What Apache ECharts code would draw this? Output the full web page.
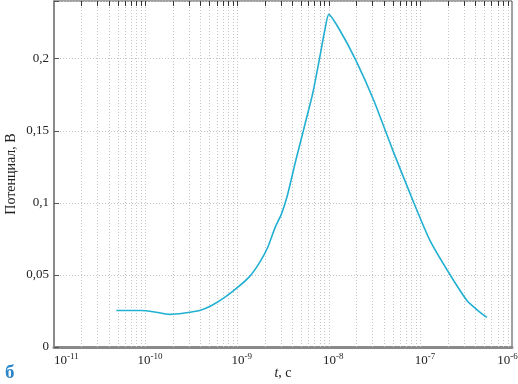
<!DOCTYPE html>
<html><head><meta charset="utf-8">
<script src="https://cdn.jsdelivr.net/npm/echarts@6/dist/echarts.min.js"></script>
<style>html,body{margin:0;padding:0;background:#fff}#c{width:518px;height:384px}</style>
</head><body><div id="c"></div>
<script>
// time, s
var timeValues = [4.8e-11, 9.0e-11, 1.25e-10, 1.83e-10, 2.67e-10, 3.89e-10, 5.26e-10, 7.3e-10, 1.01e-9, 1.37e-9, 1.76e-9, 2.15e-9, 2.57e-9, 3.06e-9, 3.56e-9, 4.36e-9, 5.47e-9, 6.68e-9, 7.97e-9, 9.04e-9, 1.0e-8, 1.32e-8, 1.97e-8, 3.1e-8, 5.0e-8, 8.27e-8, 1.27e-7, 2.1e-7, 3.22e-7, 4.25e-7, 5.33e-7];
// potential, V
var potentialValues = [0.0253, 0.0253, 0.0243, 0.0226, 0.0236, 0.0253, 0.0288, 0.0344, 0.0413, 0.049, 0.0587, 0.069, 0.0823, 0.0927, 0.106, 0.1294, 0.154, 0.176, 0.201, 0.2197, 0.2307, 0.2197, 0.199, 0.171, 0.1364, 0.1017, 0.074, 0.0503, 0.0323, 0.0253, 0.0205];
var xMin = 1e-11, xMax = 1e-6;
var yMin = 0, yMax = 0.24, yStep = 0.05;
var decadeExponents = [-11, -10, -9, -8, -7, -6];
var minorMultipliers = [2, 3, 4, 5, 6, 7, 8, 9];
var yAxisName = 'Потенциал, В';
var panelLetter = 'б';

var gridPositions = [];
decadeExponents.forEach(function (e, i) {
  if (i > 0 && i < decadeExponents.length - 1) gridPositions.push(Math.pow(10, e));
  if (i < decadeExponents.length - 1) minorMultipliers.forEach(function (m) { gridPositions.push(m * Math.pow(10, e)); });
});
var gridStyle = { color: '#c4c4c4', type: [1, 2], width: 1 };
var tickStyle = { color: '#333', type: 'solid', width: 1 };
var vLines = gridPositions.map(function (v) { return [{ coord: [v, yMin], lineStyle: gridStyle }, { coord: [v, yMax] }]; });
var topTicks = gridPositions.map(function (v) { return [{ coord: [v, yMax], lineStyle: tickStyle }, { coord: [v, yMax - 0.0035] }]; });

var data = timeValues.map(function (t, i) { return [t, potentialValues[i]]; });
var serif = 'Liberation Serif';
var chart = echarts.init(document.getElementById('c'), null, { renderer: 'canvas' });
chart.setOption({
  animation: false,
  backgroundColor: '#fff',
  grid: { left: 54, right: 6, top: 1, bottom: 37, containLabel: false, outerBoundsMode: 'none',
    show: true, borderColor: '#444', borderWidth: 1, backgroundColor: 'transparent' },
  xAxis: {
    type: 'log', logBase: 10, min: xMin, max: xMax,
    name: '{i|t}{n|, c}', nameLocation: 'middle', nameGap: 19, nameMoveOverlap: false,
    nameTextStyle: { rich: {
      i: { fontFamily: serif, fontSize: 14, fontStyle: 'italic', color: '#222' },
      n: { fontFamily: serif, fontSize: 14, color: '#222' } } },
    axisLine: { show: true, lineStyle: { color: '#8a8a8a', width: 3 } },
    axisTick: { show: false },
    splitLine: { show: false },
    axisLabel: {
      margin: 5,
      alignMinLabel: 'left',
      formatter: function (v) {
        var e = Math.round(Math.log(v) / Math.LN10);
        if (e === -11) return '{b|10}{s|' + e + '}';
        if (e === -6) return '{b|10}{s|' + e + '}{p|}';
        return '{p|}{b|10}{s|' + e + '}';
      },
      rich: {
        b: { fontFamily: serif, fontSize: 13, color: '#222', verticalAlign: 'bottom' },
        s: { fontFamily: serif, fontSize: 9, color: '#222', verticalAlign: 'bottom', padding: [0, 0, 6, 0] },
        p: { width: 9 }
      }
    }
  },
  yAxis: {
    type: 'value', min: yMin, max: yMax, interval: yStep,
    name: yAxisName, nameLocation: 'middle', nameGap: 36, nameMoveOverlap: false,
    nameTextStyle: { fontFamily: serif, fontSize: 14, color: '#222' },
    axisLine: { show: true, lineStyle: { color: '#8a8a8a', width: 2 } },
    axisTick: { show: true, inside: true, length: 5, lineStyle: { color: '#555' } },
    splitLine: { show: true, lineStyle: gridStyle },
    axisLabel: {
      fontFamily: serif, fontSize: 13, color: '#222', margin: 5,
      formatter: function (v) {
        var k = v / yStep;
        if (Math.abs(k - Math.round(k)) > 1e-6) return '';
        return String(+v.toFixed(2)).replace('.', ',');
      }
    }
  },
  graphic: [
    { type: 'text', left: 5, top: 364, style: { text: panelLetter, fontFamily: serif, fontSize: 19, fontWeight: 'bold', fill: '#2a86c8' } }
  ],
  series: [
    {
      type: 'line', data: data, smooth: 0.2, showSymbol: false,
      lineStyle: { color: '#22b0d2', width: 1.6 },
      itemStyle: { color: '#22b0d2' },
      z: 5,
      markLine: {
        silent: true, symbol: 'none', animation: false, label: { show: false },
        lineStyle: gridStyle,
        emphasis: { disabled: true },
        data: vLines.concat(topTicks)
      }
    }
  ]
});
</script></body></html>
